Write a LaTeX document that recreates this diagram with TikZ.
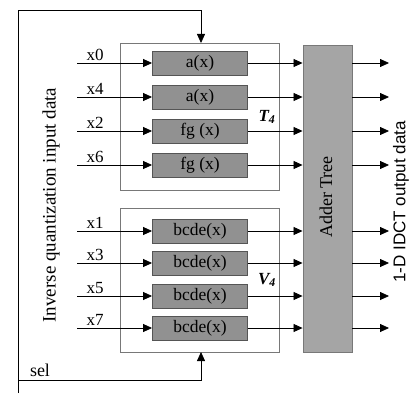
\documentclass[tikz,border=0pt]{standalone}
\usepackage{fontspec}
\setmainfont{Liberation Serif}
\newfontfamily\sansfont{Liberation Sans}
\usetikzlibrary{arrows.meta}

\definecolor{fungray}{RGB}{145,145,145}
\definecolor{addergray}{RGB}{165,165,165}
\definecolor{edgegray}{RGB}{85,85,85}
\definecolor{framegray}{RGB}{120,120,120}

\tikzset{
    funbox/.style={draw=edgegray, fill=fungray, line width=0.9pt, minimum width=95pt, minimum height=24pt, inner sep=0pt, font=\fontsize{17.5}{17.5}\selectfont},
    frame/.style={draw=framegray, line width=0.9pt},
    wire/.style={line width=0.8pt, -{Triangle[length=9pt, width=8pt]}},
    inlabel/.style={font=\fontsize{17}{17}\selectfont, inner sep=0pt},
    setlabel/.style={font=\bfseries\itshape\fontsize{17}{17}\selectfont, inner sep=0pt}
}

\begin{document}
\begin{tikzpicture}[x=1pt, y=-1pt]
                    \useasboundingbox (0,0) rectangle (411,396);
                    % Frames
                    \draw[frame] (120,43) rectangle (279,190);
                    \draw[frame] (120,208) rectangle (279,352);
                    \node[setlabel] (T4) at (267,117) {T\textsubscript{4}};
                    \node[setlabel] (V4) at (267,280) {V\textsubscript{4}};
                    % Nodes
                    \node[funbox] (a1) at (200,63) {a(x)};
                    \node[funbox] (a2) at (200,97) {a(x)};
                    \node[funbox] (fg1) at (200,131) {fg (x)};
                    \node[funbox] (fg2) at (200,165) {fg (x)};
                    \node[funbox] (b1) at (200,231) {bcde(x)};
                    \node[funbox] (b2) at (200,263) {bcde(x)};
                    \node[funbox] (b3) at (200,296) {bcde(x)};
                    \node[funbox] (b4) at (200,328) {bcde(x)};
                    \node[draw=framegray, fill=addergray, line width=0.9pt, minimum width=49pt, minimum height=307pt, inner sep=0pt] (adder) at (327.5,198.5) {};
                    \node[rotate=90, font=\fontsize{18}{18}\selectfont] (addertext) at (326,197) {Adder Tree};
                    \node[rotate=90, font=\fontsize{19}{19}\selectfont] (intext) at (51,205) {Inverse quantization input data};
                    \node[rotate=90, font=\sansfont\fontsize{17}{17}\selectfont] (outtext) at (401,202) {1-D IDCT output data};
                    % Inputs
                    \coordinate (i0) at (77,63);
                    \coordinate (i4) at (77,97);
                    \coordinate (i2) at (77,131);
                    \coordinate (i6) at (77,165);
                    \coordinate (i1) at (77,231);
                    \coordinate (i3) at (77,263);
                    \coordinate (i5) at (77,296);
                    \coordinate (i7) at (77,328);
                    \node[inlabel] (l0) at (95,55) {x0};
                    \node[inlabel] (l4) at (95,89) {x4};
                    \node[inlabel] (l2) at (95,123) {x2};
                    \node[inlabel] (l6) at (95,157) {x6};
                    \node[inlabel] (l1) at (95,223) {x1};
                    \node[inlabel] (l3) at (95,255) {x3};
                    \node[inlabel] (l5) at (95,288) {x5};
                    \node[inlabel] (l7) at (95,320) {x7};
                    % Outputs
                    \coordinate (o1) at (389,63);
                    \coordinate (o2) at (389,97);
                    \coordinate (o3) at (389,131);
                    \coordinate (o4) at (389,165);
                    \coordinate (o5) at (389,231);
                    \coordinate (o6) at (389,263);
                    \coordinate (o7) at (389,296);
                    \coordinate (o8) at (389,328);
                    % Edges
                    \draw[wire] (i0) -- (a1);
                    \draw[wire] (i4) -- (a2);
                    \draw[wire] (i2) -- (fg1);
                    \draw[wire] (i6) -- (fg2);
                    \draw[wire] (i1) -- (b1);
                    \draw[wire] (i3) -- (b2);
                    \draw[wire] (i5) -- (b3);
                    \draw[wire] (i7) -- (b4);
                    \draw[wire] (a1) -- (a1 -| adder.west);
                    \draw[wire] (a2) -- (a2 -| adder.west);
                    \draw[wire] (fg1) -- (fg1 -| adder.west);
                    \draw[wire] (fg2) -- (fg2 -| adder.west);
                    \draw[wire] (b1) -- (b1 -| adder.west);
                    \draw[wire] (b2) -- (b2 -| adder.west);
                    \draw[wire] (b3) -- (b3 -| adder.west);
                    \draw[wire] (b4) -- (b4 -| adder.west);
                    \draw[wire] (o1 -| adder.east) -- (o1);
                    \draw[wire] (o2 -| adder.east) -- (o2);
                    \draw[wire] (o3 -| adder.east) -- (o3);
                    \draw[wire] (o4 -| adder.east) -- (o4);
                    \draw[wire] (o5 -| adder.east) -- (o5);
                    \draw[wire] (o6 -| adder.east) -- (o6);
                    \draw[wire] (o7 -| adder.east) -- (o7);
                    \draw[wire] (o8 -| adder.east) -- (o8);
                    % Select lines
                    \coordinate (selbot) at (18,393);
                    \coordinate (selmid) at (18,380);
                    \coordinate (seltop) at (201,43);
                    \coordinate (selup) at (201,352);
                    \node[font=\fontsize{18}{18}\selectfont, inner sep=0pt] (sel) at (40,370) {sel};
                    \draw[wire] (selbot) -- (18,10) -- (201,10) -- (seltop);
                    \draw[wire] (selmid) -- (201,380) -- (selup);
                \end{tikzpicture}
\end{document}
